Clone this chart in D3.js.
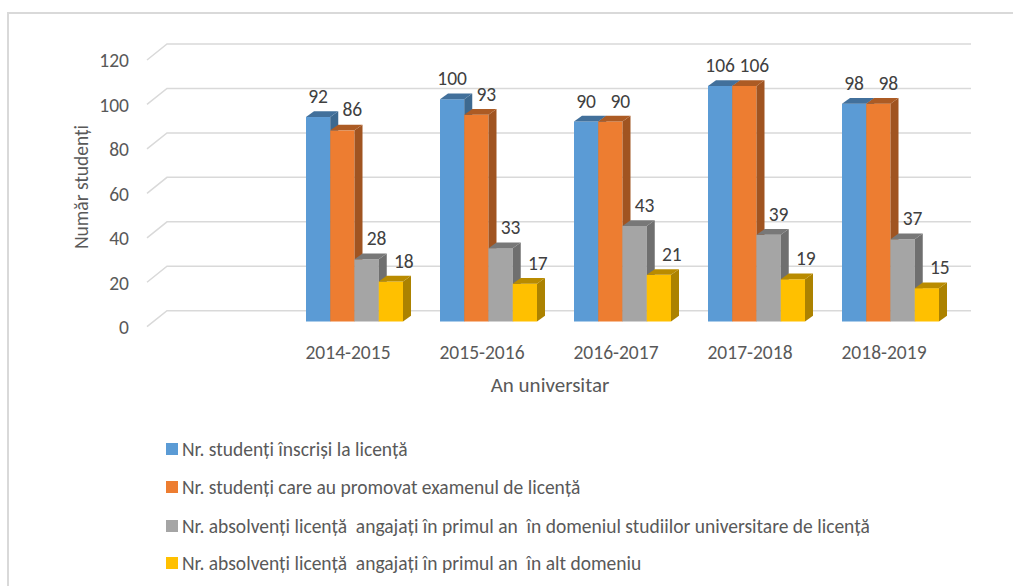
<!DOCTYPE html>
<html>
<head>
<meta charset="utf-8">
<script src="https://cdn.jsdelivr.net/npm/d3@7"></script>
<style>
  body { margin: 0; background: #fff; }
  svg text { font-family: Carlito, Calibri, Lato, sans-serif; }
</style>
</head>
<body>
<svg id="chart" width="1013" height="586"></svg>
<script>
// date
const categories = ["", "2014-2015", "2015-2016", "2016-2017", "2017-2018", "2018-2019"];
const seriesNames = [
  "Nr. studenți înscriși la licență",
  "Nr. studenți care au promovat examenul de licență",
  "Nr. absolvenți licență  angajați în primul an  în domeniul studiilor universitare de licență",
  "Nr. absolvenți licență  angajați în primul an  în alt domeniu",
];
const inscrisi = [92, 100, 90, 106, 98];
const promovati = [86, 93, 90, 106, 98];
const angajatiDomeniu = [28, 33, 43, 39, 37];
const angajatiAlt = [18, 17, 21, 19, 15];
const yTicks = [0, 20, 40, 60, 80, 100, 120];
const colors = ["#5B9BD5", "#ED7D31", "#A5A5A5", "#FFC000"];

const seriesValues = [inscrisi, promovati, angajatiDomeniu, angajatiAlt];
const years = categories.slice(1);

const svg = d3.select("#chart");

// chenar
svg.append("rect")
  .attr("x", 8).attr("y", 13)
  .attr("width", 1020).attr("height", 600)
  .attr("fill", "#fff")
  .attr("stroke", "#d9d9d9")
  .attr("stroke-width", 2);

// peretele din spate si adancimea podelei
const depth = { dx: -20, dy: 16 };
const x = d3.scaleBand().domain(categories).range([167, 971]);
const y = d3.scaleLinear().domain([0, 120]).range([310.7, 44]);
const yFront = d3.scaleLinear().domain([0, 120]).range([310.7 + depth.dy, 44 + depth.dy]);
const xFront = d3.scaleBand().domain(categories).range([167 + depth.dx, 971 + depth.dx]);

// linii de grila
svg.append("g")
  .selectAll("path")
  .data(yTicks)
  .enter()
  .append("path")
  .attr("d", (v) => `M${x.range()[0] + depth.dx},${y(v) + depth.dy}L${x.range()[0]},${y(v)}H${x.range()[1]}`)
  .attr("fill", "none")
  .attr("stroke", "#d9d9d9")
  .attr("stroke-width", 1.5);

// axa Y
svg.append("g")
  .attr("transform", "translate(137,0)")
  .call(d3.axisLeft(yFront).tickValues(yTicks).tickSize(0).tickPadding(8))
  .call((g) => g.select(".domain").remove())
  .call((g) => g.selectAll("text")
    .attr("fill", "#595959")
    .style("font-size", "19.5px")
    .attr("dy", "0.35em"));

// axa X
svg.append("g")
  .attr("transform", "translate(0,352)")
  .call(d3.axisBottom(xFront).tickSize(0).tickPadding(0))
  .call((g) => g.select(".domain").remove())
  .call((g) => g.selectAll("text")
    .attr("y", 0)
    .attr("dy", "0.35em")
    .attr("fill", "#595959")
    .style("font-size", "19.5px"));

// titluri axe
svg.append("text")
  .attr("x", 550).attr("y", 385)
  .attr("dy", "0.35em")
  .attr("text-anchor", "middle")
  .attr("fill", "#595959")
  .style("font-size", "21px")
  .text("An universitar");

svg.append("text")
  .attr("transform", "translate(81,187) rotate(-90)")
  .attr("dy", "0.35em")
  .attr("text-anchor", "middle")
  .attr("fill", "#595959")
  .style("font-size", "19.5px")
  .text("Număr studenți");

// bare 3D
const barShift = { dx: -13.5, dy: 10.8 };
const barDepth = { dx: 8, dy: -5.7 };
const groupWidth = 97;
const xInner = d3.scaleBand().domain(d3.range(seriesNames.length)).range([0, groupWidth]);
const labelShift = [-4, 6, 6, 9];

const bars = [];
years.forEach((year, i) => {
  seriesValues.forEach((values, s) => {
    bars.push({ year, s, value: values[i] });
  });
});

const barG = svg.append("g");
bars.forEach((d) => {
  const x0 = x(d.year) + x.bandwidth() / 2 - groupWidth / 2 + barShift.dx + xInner(d.s);
  const x1 = x0 + xInner.bandwidth();
  const yTop = y(d.value) + barShift.dy;
  const yBase = y(0) + barShift.dy;
  const base = d3.color(colors[d.s]);
  const g = barG.append("g");
  g.append("rect")
    .attr("x", x0).attr("y", yTop)
    .attr("width", x1 - x0).attr("height", yBase - yTop)
    .attr("fill", base);
  g.append("path")
    .attr("d", `M${x1},${yTop}L${x1 + barDepth.dx},${yTop + barDepth.dy}L${x1 + barDepth.dx},${yBase + barDepth.dy}L${x1},${yBase}Z`)
    .attr("fill", base.darker(1.1));
  g.append("path")
    .attr("d", `M${x0},${yTop}L${x0 + barDepth.dx},${yTop + barDepth.dy}L${x1 + barDepth.dx},${yTop + barDepth.dy}L${x1},${yTop}Z`)
    .attr("fill", base.darker(0.9));
  g.append("text")
    .attr("x", (x0 + x1) / 2 + barDepth.dx / 2 + labelShift[d.s])
    .attr("y", yTop + barDepth.dy - 15)
    .attr("dy", "0.35em")
    .attr("text-anchor", "middle")
    .attr("fill", "#404040")
    .style("font-size", "19.5px")
    .text(d.value);
});

// legenda
const legendRows = [449, 487, 526, 563];
const legend = svg.append("g")
  .selectAll("g")
  .data(seriesNames)
  .enter()
  .append("g")
  .attr("transform", (d, i) => `translate(166,${legendRows[i]})`);
legend.append("rect")
  .attr("x", 0).attr("y", -6)
  .attr("width", 12).attr("height", 12)
  .attr("fill", (d, i) => colors[i]);
legend.append("text")
  .attr("x", 16)
  .attr("dy", "0.35em")
  .attr("fill", "#595959")
  .style("font-size", "19.5px")
  .style("white-space", "pre")
  .attr("xml:space", "preserve")
  .text((d) => d);
</script>
</body>
</html>
